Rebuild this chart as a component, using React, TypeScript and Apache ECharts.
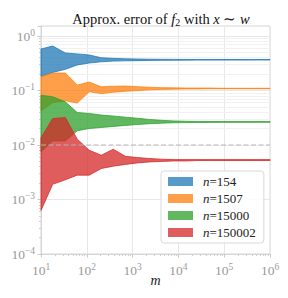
import React, { useEffect, useRef } from 'react';
import * as echarts from 'echarts';

const mValues = [10, 18, 34, 62, 113, 207, 379, 695, 1274, 2336, 4281, 7848, 14384, 26367, 48329, 88587, 162378, 297635, 545559, 1000000];

const blueUp = [0.58, 0.655, 0.49, 0.47, 0.45, 0.40, 0.39, 0.383, 0.379, 0.376, 0.374, 0.373, 0.372, 0.372, 0.371, 0.371, 0.371, 0.370, 0.370, 0.370];
const blueLo = [0.18, 0.215, 0.245, 0.295, 0.32, 0.337, 0.347, 0.351, 0.354, 0.357, 0.359, 0.36, 0.361, 0.362, 0.362, 0.363, 0.363, 0.363, 0.364, 0.364];

const orangeUp = [0.18, 0.21, 0.21, 0.126, 0.143, 0.117, 0.12, 0.121, 0.118, 0.115, 0.113, 0.112, 0.111, 0.111, 0.111, 0.11, 0.11, 0.11, 0.11, 0.11];
const orangeLo = [0.042, 0.06, 0.065, 0.059, 0.095, 0.088, 0.093, 0.097, 0.1, 0.103, 0.105, 0.106, 0.107, 0.107, 0.108, 0.108, 0.108, 0.108, 0.108, 0.108];

const greenUp = [0.082, 0.077, 0.062, 0.0394, 0.038, 0.0355, 0.034, 0.0325, 0.031, 0.0295, 0.0284, 0.0277, 0.0273, 0.0271, 0.027, 0.027, 0.0269, 0.0269, 0.0269, 0.0269];
const greenLo = [0.0075, 0.0119, 0.0119, 0.0183, 0.0201, 0.021, 0.0219, 0.0229, 0.0238, 0.0246, 0.0252, 0.0256, 0.0258, 0.026, 0.026, 0.0261, 0.0261, 0.0261, 0.0262, 0.0262];

const redUp = [0.0136, 0.0307, 0.032, 0.0128, 0.008, 0.0065, 0.0084, 0.0062, 0.0059, 0.00565, 0.0055, 0.0054, 0.0054, 0.0054, 0.0054, 0.0054, 0.0054, 0.0054, 0.0054, 0.0054];
const redLo = [0.00063, 0.0019, 0.0023, 0.0028, 0.0028, 0.0037, 0.0041, 0.0044, 0.0047, 0.0049, 0.005, 0.0051, 0.0051, 0.0052, 0.0052, 0.0052, 0.0052, 0.0052, 0.0052, 0.0052];

const seriesNames = ['n=154', 'n=1507', 'n=15000', 'n=150002'];
const bandColors = ['rgba(31,119,180,0.75)', 'rgba(255,127,14,0.75)', 'rgba(44,160,44,0.75)', 'rgba(214,39,40,0.75)'];

const refLevel = 0.01;

const minorX = [20, 30, 40, 50, 60, 70, 80, 90, 200, 300, 400, 500, 600, 700, 800, 900, 2000, 3000, 4000, 5000, 6000, 7000, 8000, 9000, 20000, 30000, 40000, 50000, 60000, 70000, 80000, 90000, 200000, 300000, 400000, 500000, 600000, 700000, 800000, 900000];
const minorY = [2e-4, 3e-4, 4e-4, 5e-4, 6e-4, 7e-4, 8e-4, 9e-4, 2e-3, 3e-3, 4e-3, 5e-3, 6e-3, 7e-3, 8e-3, 9e-3, 0.02, 0.03, 0.04, 0.05, 0.06, 0.07, 0.08, 0.09, 0.2, 0.3, 0.4, 0.5, 0.6, 0.7, 0.8, 0.9];

const SERIF = 'Liberation Serif';

const fmtPow = (v: number) => {
  const e = Math.log10(v);
  const r = Math.round(e);
  if (Math.abs(e - r) > 1e-6) return '';
  return `{b|10}{s|${r < 0 ? '\u2212' + -r : r}}`;
};

const labelRich = {
  b: { fontFamily: SERIF, fontSize: 13.5, color: '#9a9a9a', lineHeight: 17 },
  s: { fontFamily: SERIF, fontSize: 9.5, color: '#9a9a9a', verticalAlign: 'top', lineHeight: 10 },
};

export default function App() {
  const ref = useRef<HTMLDivElement>(null);
  useEffect(() => {
    document.body.style.margin = '0';
    const chart = echarts.init(ref.current!, null, { renderer: 'svg' });
    const bands = [
      { name: seriesNames[0], up: blueUp, lo: blueLo, color: bandColors[0] },
      { name: seriesNames[1], up: orangeUp, lo: orangeLo, color: bandColors[1] },
      { name: seriesNames[2], up: greenUp, lo: greenLo, color: bandColors[2] },
      { name: seriesNames[3], up: redUp, lo: redLo, color: bandColors[3] },
    ];
    const bandSeries = bands.map((b) => ({
      type: 'custom',
      name: b.name,
      coordinateSystem: 'cartesian2d',
      xAxisIndex: 0,
      yAxisIndex: 0,
      z: 2,
      itemStyle: { color: b.color },
      data: mValues.map((m, i) => [m, b.lo[i], b.up[i]]),
      encode: { x: 0, y: [1, 2] },
      renderItem: (params: any, api: any) => {
        if (params.dataIndex !== 0) return null;
        const pts: number[][] = [];
        for (let i = 0; i < mValues.length; i++) pts.push(api.coord([mValues[i], b.up[i]]));
        for (let i = mValues.length - 1; i >= 0; i--) pts.push(api.coord([mValues[i], b.lo[i]]));
        return {
          type: 'polygon',
          shape: { points: pts },
          style: { fill: b.color, stroke: b.color, lineWidth: 1, lineJoin: 'round' },
        };
      },
    }));

    const option: any = {
      animation: false,
      title: {
        text: '{r|Approx. error of }{i|f}{sub|2}{r| with }{i|x}{r| \u223C }{i|w}',
        left: 156,
        top: 5,
        textAlign: 'center',
        textStyle: {
          fontWeight: 'normal',
          rich: {
            r: { fontFamily: SERIF, fontSize: 14.5, fontWeight: 'normal', color: '#111', lineHeight: 17 },
            i: { fontFamily: SERIF, fontSize: 14.5, fontWeight: 'normal', fontStyle: 'italic', color: '#111', lineHeight: 17 },
            sub: { fontFamily: SERIF, fontSize: 10, fontWeight: 'normal', color: '#111', verticalAlign: 'bottom', lineHeight: 10 },
          },
        },
      },
      grid: {
        left: 41,
        right: 18,
        top: 26,
        bottom: 44,
        show: true,
        borderColor: '#d6d6d6',
        borderWidth: 1,
        outerBoundsMode: 'none',
      },
      legend: {
        left: 161,
        top: 171,
        orient: 'vertical',
        itemWidth: 25,
        itemHeight: 9,
        itemGap: 4,
        padding: [4, 8, 4, 7],
        backgroundColor: 'rgba(255,255,255,0.85)',
        borderColor: '#d8d8d8',
        borderWidth: 1,
        borderRadius: 3,
        data: seriesNames.map((n) => ({ name: n, icon: 'rect' })),
        formatter: (name: string) => `{i|n}{t|${name.slice(1)}}`,
        textStyle: {
          rich: {
            i: { fontFamily: SERIF, fontSize: 13, fontStyle: 'italic', color: '#222', padding: [0, 0, 0, 5], lineHeight: 14 },
            t: { fontFamily: SERIF, fontSize: 13, color: '#222', lineHeight: 14 },
          },
        },
      },
      xAxis: [
        {
          type: 'log',
          logBase: 10,
          min: 10,
          max: 1000000,
          name: 'm',
          nameLocation: 'middle',
          nameGap: 19,
          nameMoveOverlap: false,
          nameTextStyle: { fontFamily: SERIF, fontSize: 14, fontStyle: 'italic', color: '#222' },
          axisLine: { show: true, lineStyle: { color: '#d6d6d6' } },
          axisTick: { show: true, length: 3.5, lineStyle: { color: '#c8c8c8' } },
          axisLabel: { formatter: fmtPow, rich: labelRich, margin: 8, hideOverlap: false },
          splitLine: { show: true, lineStyle: { color: '#e8e8e8' } },
        },
        {
          type: 'log',
          logBase: 10,
          min: 10,
          max: 1000000,
          position: 'bottom',
          axisLine: { show: false },
          axisLabel: { show: false },
          splitLine: { show: false },
          axisTick: { show: true, length: 2, customValues: minorX, lineStyle: { color: '#d0d0d0' } },
        },
      ],
      yAxis: [
        {
          type: 'log',
          logBase: 10,
          min: 1e-4,
          max: 1.53,
          axisLine: { show: true, lineStyle: { color: '#d6d6d6' } },
          axisTick: { show: true, length: 3.5, lineStyle: { color: '#c8c8c8' } },
          axisLabel: { formatter: fmtPow, rich: labelRich, margin: 6, hideOverlap: false },
          splitLine: { show: true, lineStyle: { color: '#e8e8e8' } },
        },
        {
          type: 'log',
          logBase: 10,
          min: 1e-4,
          max: 1.53,
          position: 'left',
          axisLine: { show: false },
          axisLabel: { show: false },
          splitLine: { show: false },
          axisTick: { show: true, length: 2, customValues: minorY, lineStyle: { color: '#d0d0d0' } },
        },
      ],
      series: [
        {
          type: 'line',
          name: 'minor-grid',
          xAxisIndex: 0,
          yAxisIndex: 0,
          z: 1,
          silent: true,
          showSymbol: false,
          symbol: 'none',
          data: [[10, 1e-4]],
          lineStyle: { opacity: 0 },
          markLine: {
            silent: true,
            z: 1,
            symbol: ['none', 'none'],
            label: { show: false },
            lineStyle: { color: '#f1f1f1', type: 'solid', width: 1 },
            data: minorY.map((v) => ({ yAxis: v })),
          },
        },
        ...bandSeries,
        {
          type: 'line',
          name: 'ref',
          xAxisIndex: 0,
          yAxisIndex: 0,
          z: 5,
          silent: true,
          symbol: 'none',
          data: [[mValues[0], refLevel], [mValues[mValues.length - 1], refLevel]],
          lineStyle: { color: '#b4b4b4', width: 1, type: [5, 2.5] },
        },
      ],
    };
    chart.setOption(option);
    return () => chart.dispose();
  }, []);
  return <div ref={ref} style={{ width: 288, height: 298 }} />;
}
